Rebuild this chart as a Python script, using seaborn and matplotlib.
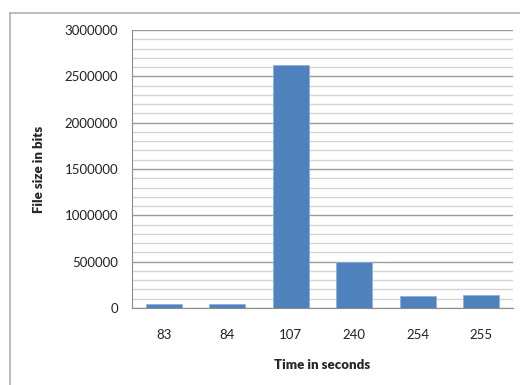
import matplotlib
matplotlib.use("Agg")
import matplotlib.pyplot as plt
import seaborn as sns
import pandas as pd
import numpy as np
from matplotlib.lines import Line2D

# data
times = ["83", "84", "107", "240", "254", "255"]
sizes = [40000, 40000, 2622000, 500000, 130000, 143000]

df = pd.DataFrame({"time": times, "size": sizes})

sns.set_style("white")
plt.rcParams["font.family"] = ["Lato", "DejaVu Sans"]

fig = plt.figure(figsize=(5.2, 3.85), dpi=100)
ax = fig.add_axes([132 / 520, 1 - 308 / 385, (513 - 132) / 520, (308 - 30) / 385])

# gridlines: minor every 100000, major every 500000
ax.set_ylim(0, 3000000)
ax.set_yticks(np.arange(0, 3000001, 500000))
ax.set_yticks(np.arange(0, 3000001, 100000), minor=True)
ax.grid(True, axis="y", which="major", color="#9a9a9a", linewidth=1.0)
ax.grid(True, axis="y", which="minor", color="#d4d4d4", linewidth=1.0)
ax.set_axisbelow(True)

sns.barplot(data=df, x="time", y="size", color="#4f81bd", width=0.57,
            saturation=1, ax=ax, edgecolor="#8fb0dc", linewidth=0.6)

for side in ["top", "right"]:
    ax.spines[side].set_visible(False)
ax.spines["left"].set_color("#8c8c8c")
ax.spines["bottom"].set_color("#8c8c8c")

ax.tick_params(axis="y", which="major", length=5, color="#8c8c8c",
               labelsize=9.5, labelcolor="#222222", pad=5)
ax.tick_params(axis="y", which="minor", length=0)
ax.tick_params(axis="x", length=0, labelsize=9.5, labelcolor="#222222", pad=15)
ax.set_yticklabels([str(v) for v in range(0, 3000001, 500000)])

ax.set_xlabel("Time in seconds", fontsize=9.5, fontweight="heavy", labelpad=13)
ax.set_ylabel("File size in bits", fontsize=9.5, fontweight="heavy", labelpad=14)

# outer frame (only top and left edges visible in the crop)
fig.add_artist(Line2D([9.5 / 520, 9.5 / 520], [0, 1 - 13 / 385],
                      transform=fig.transFigure, color="#b0b0b0", linewidth=1.2))
fig.add_artist(Line2D([9.5 / 520, 1], [1 - 13 / 385, 1 - 13 / 385],
                      transform=fig.transFigure, color="#b0b0b0", linewidth=1.2))

fig.savefig("out.png", dpi=100)
